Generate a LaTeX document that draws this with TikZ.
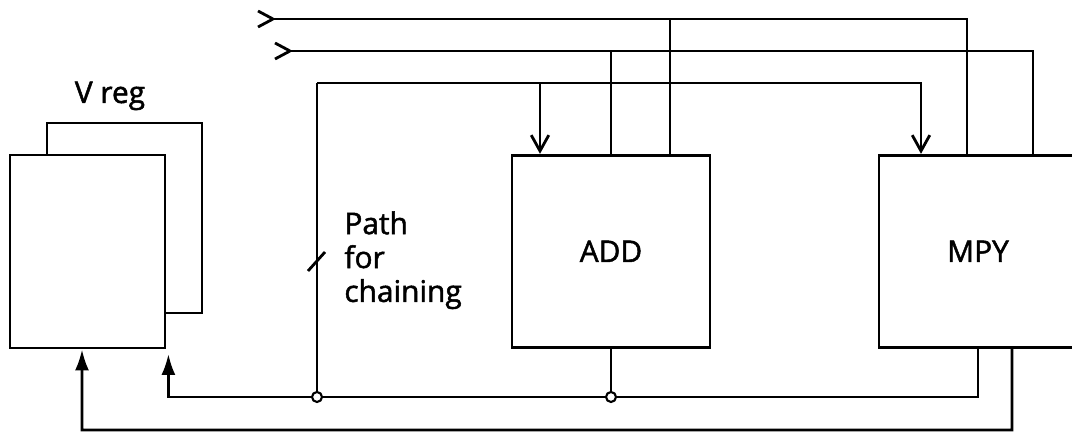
\documentclass[tikz,border=0pt]{standalone}
\usepackage{fontspec}
\setmainfont{Open Sans}
\newfontfamily\unitfont{Open Sans}[FakeBold=1.6]
\usetikzlibrary{arrows.meta, positioning, calc}

\begin{document}
\begin{tikzpicture}[
  line width=1.6pt,
  unit/.style={rectangle,draw,fill=white,inner sep=0pt,minimum width=3.96cm,minimum height=3.84cm,font=\unitfont\fontsize{17}{19.3}\selectfont},
  lbl/.style={inner sep=0pt,align=left,font=\unitfont\fontsize{17}{19.3}\selectfont},
  dot/.style={circle,draw,fill=white,inner sep=0pt,minimum size=0.2cm,line width=1.2pt},
  barb/.style={-{Straight Barb[length=9pt,width=10pt]}},
  tri/.style={-{Latex[length=12pt,width=8pt]}}
]
  \clip (0,0) rectangle (21.44,8.66);
  \fill[white] (0,0) rectangle (21.44,8.66);

  % vector registers
  \node[unit,minimum width=3.10cm,minimum height=3.80cm](vback) at (2.49,4.30){};
  \node[unit,minimum width=3.10cm,minimum height=3.86cm](vfront) at (1.75,3.63){};
  \node[lbl,anchor=base](vreg) at (2.20,6.60){V reg};

  % functional units
  \node[unit](add) at (12.22,3.635){ADD};
  \node[unit](mpy) at (19.56,3.635){MPY};

  % operand buses
  \coordinate (in1) at (5.46,8.28);
  \coordinate (in2) at (5.80,7.64);
  \coordinate (ch)  at (6.34,7.00);
  \coordinate (j1)  at (6.34,0.72);
  \coordinate (j2)  at (add.south |- j1);
  \coordinate (ret) at (1.64,0.06);
  \foreach \p in {in1,in2}
    \draw (\p) -- ++(-0.30,0.16) (\p) -- ++(-0.30,-0.16);
  \draw (in1) -| ([xshift=-0.22cm]mpy.north);
  \draw (in2) -| ([xshift=1.10cm]mpy.north);
  \draw ([xshift=1.18cm]add.north) -- ([xshift=1.18cm]add.north |- in1);
  \draw (add.north) -- (add.north |- in2);
  \draw[barb] (ch) -| ([xshift=-1.14cm]mpy.north);
  \draw[barb] ([xshift=-1.42cm]add.north |- ch) -- ([xshift=-1.42cm]add.north);

  % chaining path and results
  \draw (ch) -- (j1);
  \draw (6.16,3.24) -- (6.50,3.62);
  \node[lbl,anchor=north west](chain) at (6.86,4.46){Path\\for\\chaining};
  \draw (add.south) -- (j2);
  \draw[tri] (mpy.south) |- (j1) -| ([xshift=0.04cm,yshift=-0.09cm]vfront.south east);
  \draw[tri] ([xshift=0.68cm]mpy.south) |- (ret) -- ([xshift=-0.11cm]vfront.south);
  \node[dot] at (j1){};
  \node[dot] at (j2){};
\end{tikzpicture}
\end{document}
